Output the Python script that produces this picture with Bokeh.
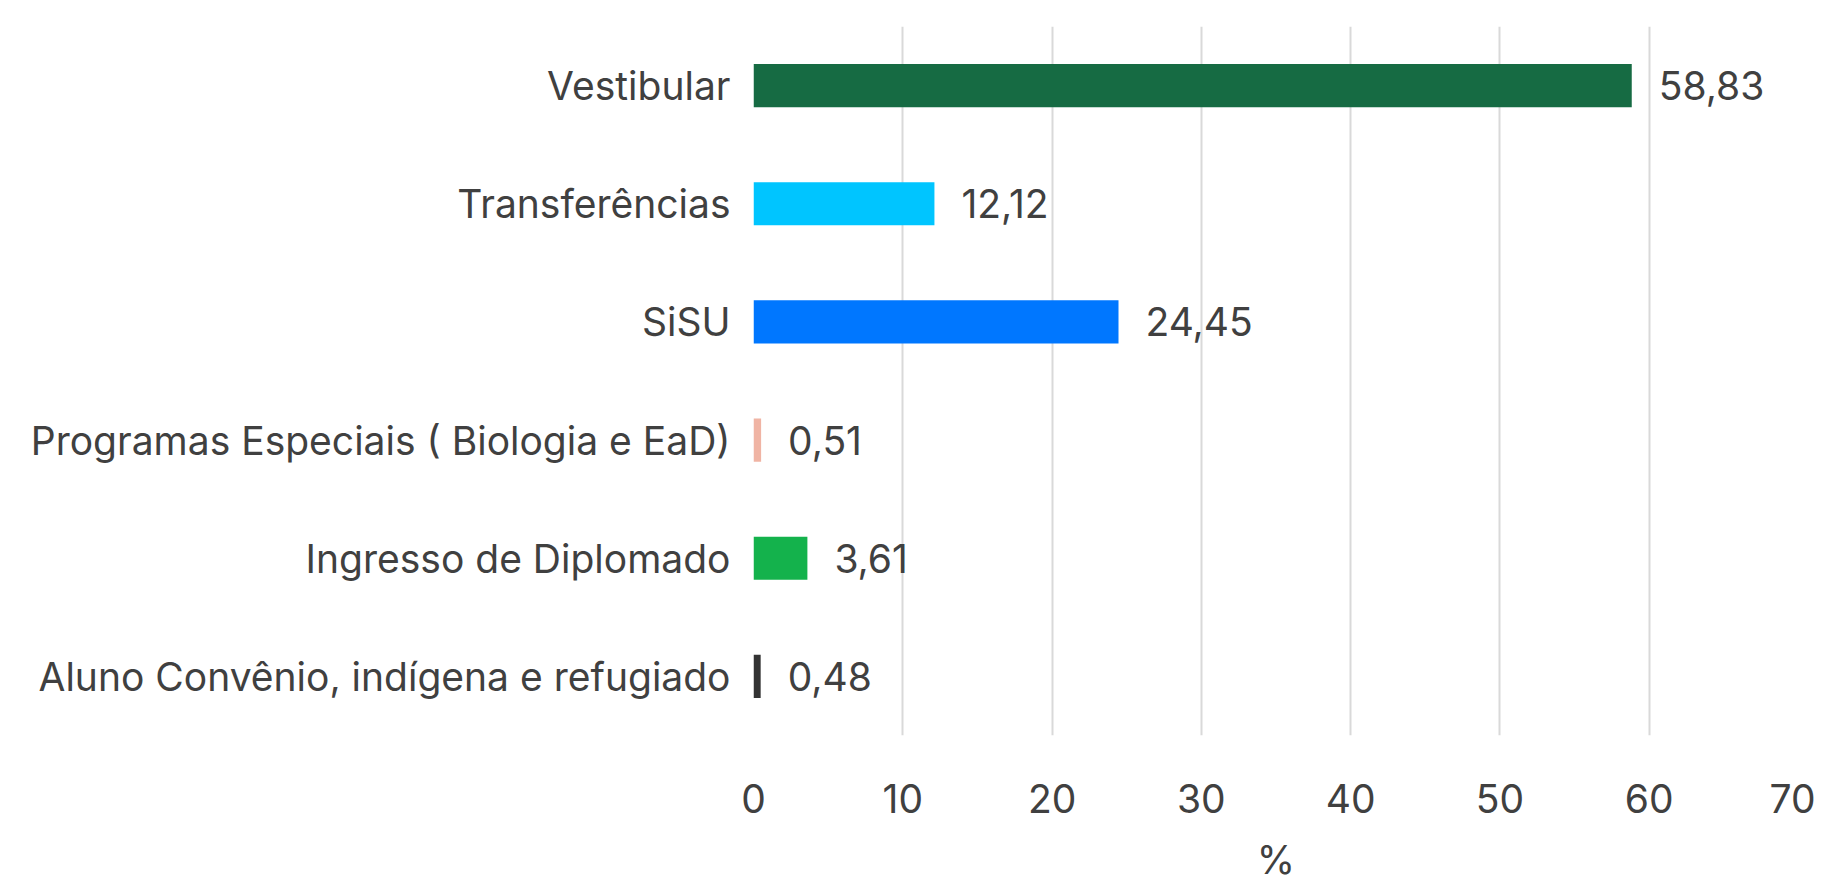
from bokeh.plotting import figure
from bokeh.models import ColumnDataSource, FactorRange, Range1d, FixedTicker
from bokeh.core.properties import value
from bokeh.embed import file_html
from bokeh.resources import INLINE

categories = [
    "Vestibular",
    "Transferências",
    "SiSU",
    "Programas Especiais ( Biologia e EaD)",
    "Ingresso de Diplomado",
    "Aluno Convênio, indígena e refugiado",
]
values = [58.83, 12.12, 24.45, 0.51, 3.61, 0.48]
bar_colors = ["#166B43", "#00C5FF", "#0077FF", "#F0B4A4", "#14B24C", "#333333"]
x_ticks = [0, 10, 20, 30, 40, 50, 60, 70]
x_title = "%"

labels = [f"{v:.2f}".replace(".", ",") for v in values]

FONT = "Inter"
TXT = "#404040"
FS = "39px"

src = ColumnDataSource(dict(cat=categories, val=values, color=bar_colors, label=labels))

p = figure(
    width=1815, height=888,
    y_range=FactorRange(factors=list(reversed(categories))),
    x_range=Range1d(0, 70),
    output_backend="svg", toolbar_location=None,
    min_border_left=753, min_border_right=17, min_border_top=26, min_border_bottom=153,
)
p.outline_line_color = None
p.background_fill_color = "white"
p.border_fill_color = "white"

p.hbar(y="cat", right="val", left=0, height=0.365, color="color", line_color=None, source=src)
p.text(x="val", y="cat", text="label", x_offset=27, text_align="left", text_baseline="middle",
       text_font=value(FONT), text_font_size=FS, text_color=TXT, source=src)

p.xgrid.grid_line_color = "#d9d9d9"
p.xgrid.grid_line_width = 2
p.ygrid.grid_line_color = None

p.xaxis.ticker = FixedTicker(ticks=x_ticks)
p.xaxis.axis_line_color = None
p.xaxis.major_tick_line_color = None
p.xaxis.minor_tick_line_color = None
p.xaxis.major_label_text_font = FONT
p.xaxis.major_label_text_font_size = FS
p.xaxis.major_label_text_color = TXT
p.xaxis.major_label_standoff = 42
p.xaxis.axis_label = x_title
p.xaxis.axis_label_text_font = FONT
p.xaxis.axis_label_text_font_size = FS
p.xaxis.axis_label_text_font_style = "normal"
p.xaxis.axis_label_text_color = TXT
p.xaxis.axis_label_standoff = 20

p.yaxis.axis_line_color = None
p.yaxis.major_tick_line_color = None
p.yaxis.minor_tick_line_color = None
p.yaxis.major_label_text_font = FONT
p.yaxis.major_label_text_font_size = FS
p.yaxis.major_label_text_color = TXT
p.yaxis.major_label_standoff = 17

open("out.html", "w").write(file_html(p, INLINE))
